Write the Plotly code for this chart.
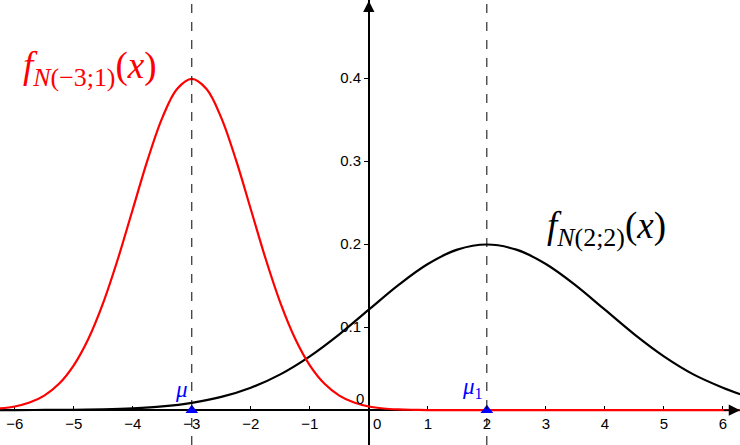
import plotly.graph_objects as go

# Red curve f_N(-3;1): values
red_x = [-6.25, -6.0, -5.75, -5.5, -5.25, -5.0, -4.75, -4.5, -4.25, -4.0, -3.75, -3.5, -3.25,
         -3.0, -2.75, -2.5, -2.25, -2.0, -1.75, -1.5, -1.25, -1.0, -0.75, -0.5, -0.25,
         0.0, 0.25, 0.5, 0.75, 1.0, 1.5, 2.0, 3.0, 4.0, 5.0, 6.0, 6.3]
red_y = [0.0020, 0.0044, 0.0091, 0.0175, 0.0317, 0.0540, 0.0863, 0.1295, 0.1826, 0.2420, 0.3011, 0.3521, 0.3867,
         0.3989, 0.3867, 0.3521, 0.3011, 0.2420, 0.1826, 0.1295, 0.0863, 0.0540, 0.0317, 0.0175, 0.0091,
         0.0044, 0.0020, 0.0009, 0.0004, 0.0001, 0.0, 0.0, 0.0, 0.0, 0.0, 0.0, 0.0]

# Black curve f_N(2;2)
blk_x = [-6.25, -6.0, -5.5, -5.0, -4.5, -4.0, -3.5, -3.0, -2.5, -2.0, -1.5, -1.0, -0.5,
         0.0, 0.5, 1.0, 1.5, 2.0, 2.5, 3.0, 3.5, 4.0, 4.5, 5.0, 5.5, 6.0, 6.3]
blk_y = [0.0000, 0.0001, 0.0002, 0.0004, 0.0010, 0.0022, 0.0045, 0.0088, 0.0159, 0.0270, 0.0431, 0.0648, 0.0913,
         0.1210, 0.1506, 0.1760, 0.1933, 0.1995, 0.1933, 0.1760, 0.1506, 0.1210, 0.0913, 0.0648, 0.0431, 0.0270, 0.0190]

means = [-3, 2]
mean_labels = ["<i>μ</i>", "<i>μ</i><sub>1</sub>"]
x_ticks = [-6, -5, -4, -3, -2, -1, 1, 2, 3, 4, 5, 6]
y_ticks = [0.1, 0.2, 0.3, 0.4]

xmin, xmax = -6.25, 6.29
ymin, ymax = -0.042, 0.494

fig = go.Figure()
for m in means:
    fig.add_vline(x=m, line=dict(color="black", width=1, dash="dash"))

fig.add_trace(go.Scatter(x=blk_x, y=blk_y, mode="lines", line=dict(color="black", width=2.2, shape="spline"),
                         showlegend=False, hoverinfo="skip"))
fig.add_trace(go.Scatter(x=red_x, y=red_y, mode="lines", line=dict(color="#ff0000", width=2.2, shape="spline"),
                         showlegend=False, hoverinfo="skip"))
fig.add_trace(go.Scatter(x=means, y=[0, 0], mode="markers",
                         marker=dict(symbol="triangle-up", size=11, color="#0000ff"),
                         showlegend=False, hoverinfo="skip", cliponaxis=False))

for m, lab in zip(means, mean_labels):
    fig.add_annotation(x=m, y=0, text=lab, showarrow=False, xanchor="right", yanchor="bottom",
                       xshift=-2, yshift=6, font=dict(family="Liberation Serif", size=23, color="#0000ff"))

# axis arrows
fig.add_annotation(x=xmax, y=0, ax=xmax - 0.3, ay=0, axref="x", ayref="y", xref="x", yref="y",
                   showarrow=True, arrowhead=2, arrowsize=1.5, arrowwidth=1.5, arrowcolor="black", text="")
fig.add_annotation(x=0, y=ymax - 0.001, ax=0, ay=ymax - 0.03, axref="x", ayref="y", xref="x", yref="y",
                   showarrow=True, arrowhead=2, arrowsize=1.5, arrowwidth=1.5, arrowcolor="black", text="")

fig.add_annotation(x=-4.72, y=0.412, text="<i>f</i><sub><i>N</i>(−3;1)</sub>(<i>x</i>)", showarrow=False,
                   font=dict(family="Liberation Serif", size=37, color="#ff0000"))
fig.add_annotation(x=4.02, y=0.219, text="<i>f</i><sub><i>N</i>(2;2)</sub>(<i>x</i>)", showarrow=False,
                   font=dict(family="Liberation Serif", size=37, color="black"))

tick_font = dict(family="Liberation Sans", size=15, color="black")
fig.update_layout(
    width=740, height=445, margin=dict(l=0, r=0, t=0, b=0, autoexpand=False),
    plot_bgcolor="white", paper_bgcolor="white",
    xaxis=dict(range=[xmin, xmax], showgrid=False, zeroline=False, showline=True, linecolor="black", linewidth=1.5,
               anchor="free", position=(0 - ymin) / (ymax - ymin), tickvals=x_ticks, automargin=False,
               ticks="inside", ticklen=3, tickcolor="black", tickfont=tick_font, layer="below traces"),
    yaxis=dict(range=[ymin, ymax], showgrid=False, zeroline=False, showline=True, linecolor="black", linewidth=1.5,
               anchor="free", position=(0 - xmin) / (xmax - xmin), tickvals=y_ticks, automargin=False,
               ticks="outside", ticklen=4, tickcolor="black", tickfont=tick_font, layer="below traces"),
)
# origin labels
fig.add_annotation(x=0, y=0, text="0", showarrow=False, xanchor="right", yanchor="bottom", xshift=-3, yshift=1,
                   font=tick_font)
fig.add_annotation(x=0, y=0, text="0", showarrow=False, xanchor="left", yanchor="top", xshift=2, yshift=-3,
                   font=tick_font)

fig.write_html("out.html", config={"displayModeBar": False},
               post_script="document.body.style.margin='0';document.body.style.overflow='hidden';")
